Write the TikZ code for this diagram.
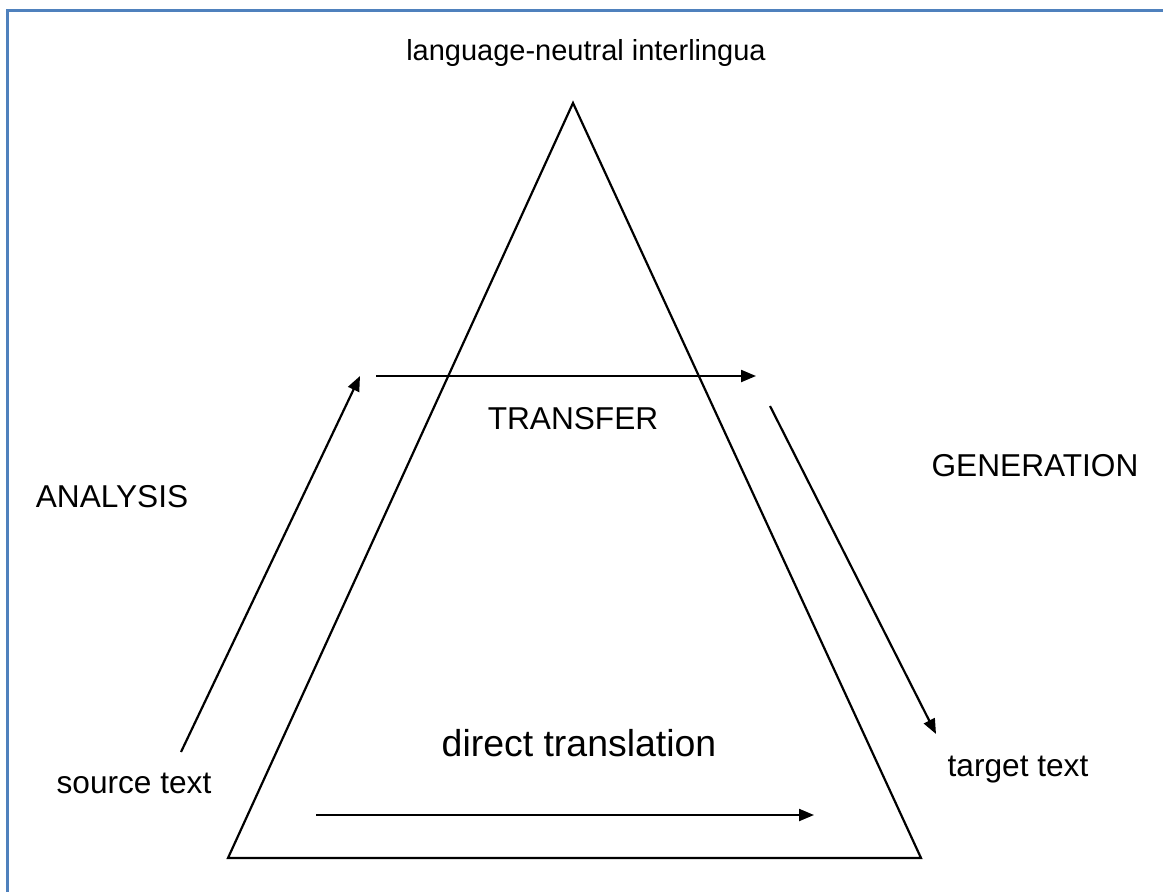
\documentclass[tikz,border=0pt]{standalone}
\usepackage{fontspec}
\setmainfont{Liberation Sans}
\usetikzlibrary{arrows.meta, positioning}
\definecolor{frameBlue}{HTML}{4F81BD}

\begin{document}
\begin{tikzpicture}[x=0.02cm, y=-0.02cm,
    flow/.style={-{Triangle[length=3mm, width=2.4mm]}, line width=1.25pt},
    lbl/.style={font=\fontsize{18}{21}\selectfont, inner sep=0pt}]
    \useasboundingbox (0,0) rectangle (1163,892);
    % frame
    \draw[frameBlue, line width=2pt] (7.5,892) -- (7.5,10.5) -- (1163,10.5);
    % pyramid
    \coordinate (apex) at (573,103);
    \coordinate (baseL) at (228,858);
    \coordinate (baseR) at (921,858);
    \draw[line width=1.25pt] (apex) -- (baseL) -- (baseR) -- cycle;
    % labels
    \node[lbl, font=\fontsize{16.5}{20}\selectfont] (inter) at (586,53) {language-neutral interlingua};
    \node[lbl] (transfer) at (573,419) {TRANSFER};
    \node[lbl] (analysis) at (112,497) {ANALYSIS};
    \node[lbl] (generation) at (1035,466) {GENERATION};
    \node[lbl] (source) at (134,783) {source text};
    \node[lbl] (target) at (1018,770) {target text};
    \node[lbl, font=\fontsize{21.3}{24}\selectfont] (direct) at (579,743) {direct translation};
    % arrows
    \coordinate (anaS) at (181,752);  \coordinate (anaE) at (360,376);
    \coordinate (traS) at (376,376);  \coordinate (traE) at (756,376);
    \coordinate (genS) at (770,406);  \coordinate (genE) at (936,734);
    \coordinate (dirS) at (316,815);  \coordinate (dirE) at (814,815);
    \draw[flow] (anaS) -- (anaE);
    \draw[flow] (traS) -- (traE);
    \draw[flow] (genS) -- (genE);
    \draw[flow] (dirS) -- (dirE);
\end{tikzpicture}
\end{document}
